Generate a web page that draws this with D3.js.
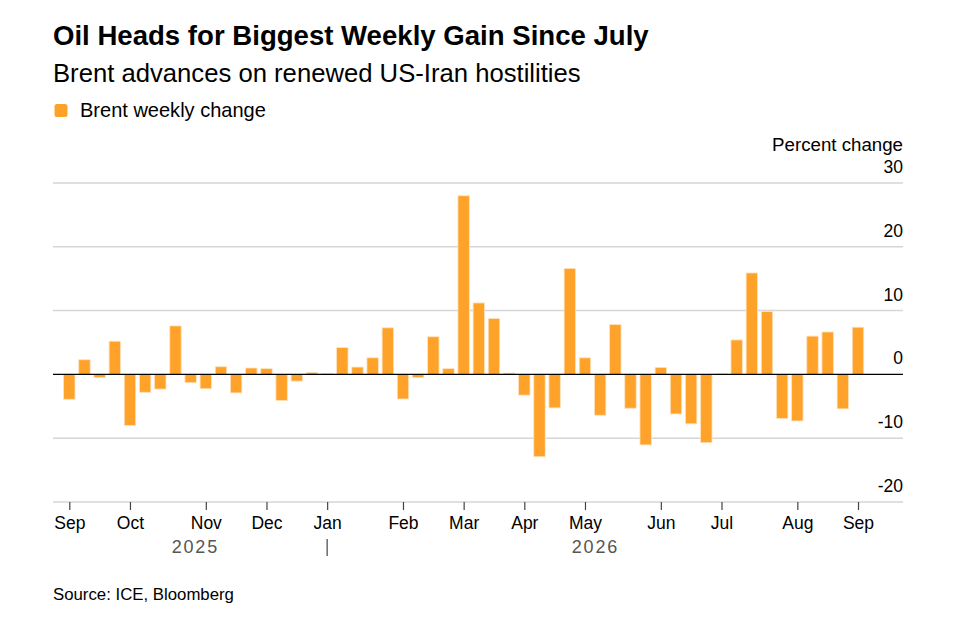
<!DOCTYPE html>
<html>
<head>
<meta charset="utf-8">
<script src="https://cdn.jsdelivr.net/npm/d3@7"></script>
<style>
  body { margin: 0; background: #fff; }
  svg { display: block; font-family: "Liberation Sans", Arial, Helvetica, sans-serif; }
</style>
</head>
<body>
<svg id="chart" width="959" height="619"></svg>
<script>
const weeks = [
  "2025-09-05","2025-09-12","2025-09-19","2025-09-26",
  "2025-10-03","2025-10-10","2025-10-17","2025-10-24","2025-10-31",
  "2025-11-07","2025-11-14","2025-11-21","2025-11-28",
  "2025-12-05","2025-12-12","2025-12-19","2025-12-26",
  "2026-01-02","2026-01-09","2026-01-16","2026-01-23","2026-01-30",
  "2026-02-06","2026-02-13","2026-02-20","2026-02-27",
  "2026-03-06","2026-03-13","2026-03-20","2026-03-27",
  "2026-04-03","2026-04-10","2026-04-17","2026-04-24",
  "2026-05-01","2026-05-08","2026-05-15","2026-05-22","2026-05-29",
  "2026-06-05","2026-06-12","2026-06-19","2026-06-26",
  "2026-07-03","2026-07-10","2026-07-17","2026-07-24","2026-07-31",
  "2026-08-07","2026-08-14","2026-08-21","2026-08-28",
  "2026-09-04"
];
const brentChange = [
  -3.9, 2.3, -0.5, 5.2,
  -8.0, -2.8, -2.3, 7.6, -1.3,
  -2.25, 1.2, -2.9, 1.0,
  0.9, -4.1, -1.05, 0.3,
  0.15, 4.2, 1.15, 2.6, 7.3,
  -3.85, -0.5, 5.9, 0.9,
  28.0, 11.2, 8.75, 0.2,
  -3.25, -12.9, -5.25, 16.6,
  2.6, -6.4, 7.8, -5.3, -11.05,
  1.1, -6.2, -7.75, -10.7,
  0.1, 5.4, 15.9, 9.85, -6.9,
  -7.3, 6.0, 6.65, -5.4,
  7.4
];
const yTicks = [-20, -10, 0, 10, 20, 30];
const yTickLabels = ["-20", "-10", "0", "10", "20", "30"];
const years = ["2025", "2026"];
const titleText = "Oil Heads for Biggest Weekly Gain Since July";
const subtitleText = "Brent advances on renewed US-Iran hostilities";
const legendText = "Brent weekly change";
const unitText = "Percent change";
const sourceText = "Source: ICE, Bloomberg";

const parse = d3.timeParse("%Y-%m-%d");
const data = weeks.map((w, i) => ({ date: parse(w), value: brentChange[i] }));

const svg = d3.select("#chart");
const plotLeft = 53, plotRight = 903, plotTop = 183, plotBottom = 502;
const barW = 11.4;

const x = d3.scaleTime()
  .domain(d3.extent(data, d => d.date))
  .range([69.3, 858]);
const y = d3.scaleLinear().domain([-20, 30]).range([plotBottom, plotTop]);

function fit(sel, target) {
  const fs = parseFloat(sel.attr("font-size"));
  const w = sel.node().getComputedTextLength();
  if (w > 0) sel.attr("font-size", (fs * target / w).toFixed(2));
}

// Titles
fit(svg.append("text").attr("x", 53).attr("y", 45)
  .attr("font-size", 26).attr("font-weight", "bold").attr("fill", "#000")
  .text(titleText), 596);
fit(svg.append("text").attr("x", 53).attr("y", 82)
  .attr("font-size", 22).attr("fill", "#000")
  .text(subtitleText), 528);

// Legend
svg.append("rect").attr("x", 54.5).attr("y", 104).attr("width", 13).attr("height", 13)
  .attr("rx", 2.5).attr("fill", "#ffa22a");
fit(svg.append("text").attr("x", 80).attr("y", 116.7)
  .attr("font-size", 17).attr("fill", "#000")
  .text(legendText), 186);

// Unit label
fit(svg.append("text").attr("x", plotRight).attr("y", 150.5).attr("text-anchor", "end")
  .attr("font-size", 17).attr("fill", "#000")
  .text(unitText), 131);

// Gridlines (non-zero)
svg.append("g").selectAll("line")
  .data(yTicks.filter(t => t !== 0))
  .join("line")
  .attr("x1", plotLeft).attr("x2", plotRight)
  .attr("y1", d => y(d)).attr("y2", d => y(d))
  .attr("stroke", "#d6d6d6").attr("stroke-width", 1.5);

// Y labels
svg.append("g").selectAll("text")
  .data(yTicks)
  .join("text")
  .attr("x", plotRight).attr("y", d => y(d) - 10)
  .attr("text-anchor", "end")
  .attr("font-size", 17.5).attr("fill", "#000")
  .text((d, i) => yTickLabels[i]);

// Bars
svg.append("g").selectAll("rect")
  .data(data)
  .join("rect")
  .attr("x", d => x(d.date) - barW / 2)
  .attr("width", barW)
  .attr("y", d => Math.min(y(d.value), y(0)))
  .attr("height", d => Math.abs(y(d.value) - y(0)))
  .attr("fill", "#ffa22a")
  .attr("stroke", "#ffe2bd").attr("stroke-width", 0.8);

// Zero line
svg.append("line")
  .attr("x1", plotLeft).attr("x2", plotRight)
  .attr("y1", y(0)).attr("y2", y(0))
  .attr("stroke", "#000").attr("stroke-width", 1.2);

// X axis: ticks at first week of each month
const monthStarts = data.filter((d, i) => i === 0 || d.date.getMonth() !== data[i - 1].date.getMonth())
  .map(d => d.date);
const xAxis = d3.axisBottom(x)
  .tickValues(monthStarts)
  .tickFormat(d3.timeFormat("%b"))
  .tickSize(8)
  .tickPadding(7);
const ax = svg.append("g").attr("transform", `translate(0,${plotBottom})`).call(xAxis);
ax.select(".domain").remove();
ax.selectAll(".tick line").attr("stroke", "#444").attr("stroke-width", 1.2);
ax.selectAll(".tick text")
  .attr("font-size", 17.5)
  .attr("font-family", "'Liberation Sans', Arial, sans-serif")
  .attr("fill", "#000");

// Year labels
const janDate = monthStarts.find(d => d.getMonth() === 0);
const firstEdge = x(data[0].date) - barW / 2;
const lastEdge = x(data[data.length - 1].date) + barW / 2;
const yearSpans = [[firstEdge, x(janDate)], [x(janDate), lastEdge]];
svg.append("g").selectAll("text")
  .data(years)
  .join("text")
  .attr("x", (d, i) => (yearSpans[i][0] + yearSpans[i][1]) / 2)
  .attr("y", 553.3)
  .attr("text-anchor", "middle")
  .attr("font-size", 18).attr("letter-spacing", 1.8)
  .attr("fill", "#555")
  .text(d => d);
svg.append("line")
  .attr("x1", x(janDate)).attr("x2", x(janDate))
  .attr("y1", 539).attr("y2", 556)
  .attr("stroke", "#444").attr("stroke-width", 1.2);

// Source
fit(svg.append("text").attr("x", 53).attr("y", 599.5)
  .attr("font-size", 16).attr("fill", "#000")
  .text(sourceText), 181);
</script>
</body>
</html>
